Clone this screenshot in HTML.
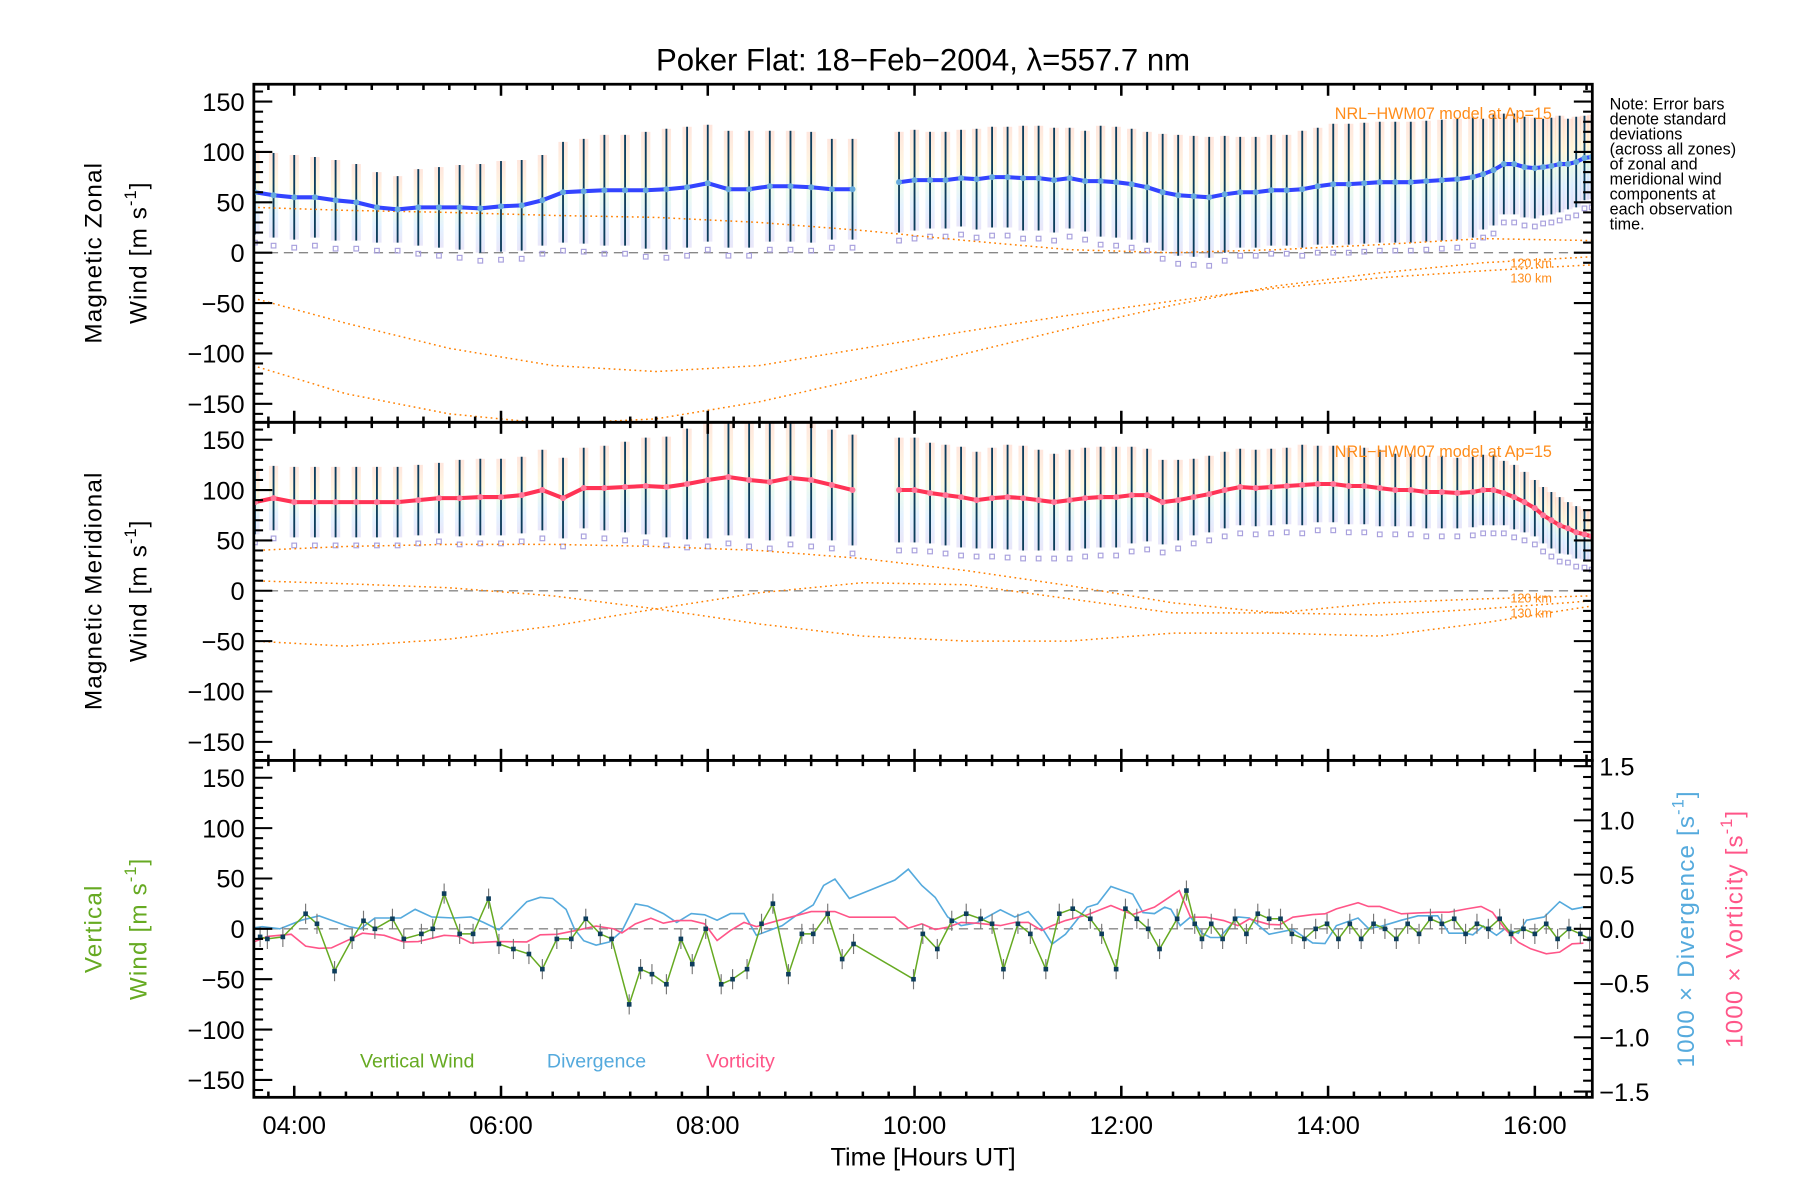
<!DOCTYPE html>
<html><head><meta charset="utf-8"><style>
html,body{margin:0;padding:0;background:#fff;}
svg{display:block;font-family:"Liberation Sans",sans-serif;}
</style></head><body>
<svg id="fig" width="1800" height="1200" viewBox="0 0 1560 1040" preserveAspectRatio="none" xmlns="http://www.w3.org/2000/svg">
<rect x="0" y="0" width="1560" height="1040" fill="#fff"/>
<text x="800" y="61" font-size="27" text-anchor="middle">Poker Flat: 18−Feb−2004, λ=557.7 nm</text>
<g id="layer"></g>
<g font-size="21" letter-spacing="1">
<text transform="translate(88,219) rotate(-90)" text-anchor="middle">Magnetic  Zonal</text>
<text transform="translate(127,219) rotate(-90)" text-anchor="middle">Wind  [m  s<tspan font-size="14" dy="-9">-1</tspan><tspan dy="9">]</tspan></text>
</g>
<g font-size="21" letter-spacing="1">
<text transform="translate(88,512) rotate(-90)" text-anchor="middle">Magnetic  Meridional</text>
<text transform="translate(127,512) rotate(-90)" text-anchor="middle">Wind  [m  s<tspan font-size="14" dy="-9">-1</tspan><tspan dy="9">]</tspan></text>
</g>
<g font-size="21" fill="#66aa22" letter-spacing="1">
<text transform="translate(88,805) rotate(-90)" text-anchor="middle">Vertical</text>
<text transform="translate(127,805) rotate(-90)" text-anchor="middle">Wind  [m  s<tspan font-size="14" dy="-9">-1</tspan><tspan dy="9">]</tspan></text>
</g>
<text transform="translate(1468,805) rotate(-90)" text-anchor="middle" font-size="21" fill="#55aadd" letter-spacing="1">1000 × Divergence [s<tspan font-size="14" dy="-9">-1</tspan><tspan dy="9">]</tspan></text>
<text transform="translate(1510,805) rotate(-90)" text-anchor="middle" font-size="21" fill="#ff5588" letter-spacing="1">1000 × Vorticity [s<tspan font-size="14" dy="-9">-1</tspan><tspan dy="9">]</tspan></text>
<text x="800" y="1010" font-size="22" text-anchor="middle">Time [Hours UT]</text>
<g font-size="14">
<text x="1395" y="95">Note: Error bars</text>
<text x="1395" y="108">denote standard</text>
<text x="1395" y="121">deviations</text>
<text x="1395" y="134">(across all zones)</text>
<text x="1395" y="147">of zonal and</text>
<text x="1395" y="160">meridional wind</text>
<text x="1395" y="173">components at</text>
<text x="1395" y="186">each observation</text>
<text x="1395" y="199">time.</text>
</g>
<g font-size="14" fill="#ff8c1a" text-anchor="end">
<text x="1345" y="103">NRL−HWM07 model at Ap=15</text>
<text x="1345" y="396">NRL−HWM07 model at Ap=15</text>
</g>
<g font-size="11" fill="#ff8c1a" text-anchor="end">
<text x="1345" y="232">120 km</text>
<text x="1345" y="245">130 km</text>
<text x="1345" y="522">120 km</text>
<text x="1345" y="535">130 km</text>
</g>
<g font-size="17">
<text x="312" y="925" fill="#66aa22">Vertical Wind</text>
<text x="474" y="925" fill="#55aadd">Divergence</text>
<text x="612" y="925" fill="#ff5588">Vorticity</text>
</g>
</svg>
<script>
// ---- data ----
const times = [3.62,3.8,4.0,4.2,4.4,4.6,4.8,5.0,5.2,5.4,5.6,5.8,6.0,6.2,6.4,6.6,6.8,7.0,7.2,7.4,7.6,7.8,8.0,8.2,8.4,8.6,8.8,9.0,9.2,9.4,
 9.85,10.0,10.15,10.3,10.45,10.6,10.75,10.9,11.05,11.2,11.35,11.5,11.65,11.8,11.95,12.1,12.25,12.4,12.55,12.7,12.85,13.0,13.15,13.3,13.45,13.6,13.75,13.9,14.05,14.2,14.35,14.5,14.65,14.8,14.95,15.1,15.25,15.4,
 15.5,15.6,15.7,15.8,15.9,16.0,16.08,16.16,16.24,16.32,16.4,16.48,16.55];
const zonal = [60,57,55,55,52,50,45,43,45,45,45,44,46,47,52,60,61,62,62,62,63,65,69,63,63,66,66,65,63,63,
 70,72,72,72,74,73,75,75,74,74,72,74,71,71,70,68,65,60,57,56,55,58,60,60,62,62,63,66,68,68,69,70,70,70,71,72,73,75,
 78,82,88,88,85,84,85,86,88,88,90,94,95];
const zonalErr = [42,42,42,40,40,38,35,33,38,40,42,44,45,45,45,50,52,55,55,58,60,60,58,58,58,55,55,55,50,50,
 50,50,48,48,48,50,50,50,52,52,52,50,50,55,55,55,55,58,60,60,60,58,55,55,55,55,58,58,60,60,60,60,60,60,60,60,60,60,
 55,55,50,50,50,50,48,48,48,45,45,42,42];
const merid = [88,92,88,88,88,88,88,88,90,92,92,93,93,95,100,92,102,102,103,104,103,106,110,113,110,108,112,110,105,100,
 100,100,97,95,93,90,92,93,92,90,88,90,92,93,93,95,95,88,90,93,96,100,103,102,103,104,105,106,106,104,104,102,100,100,98,98,97,98,
 100,100,97,93,88,82,75,70,65,62,58,56,54];
const meridErr = [32,32,35,35,35,35,35,35,35,35,38,38,38,38,40,40,40,42,45,48,50,55,58,58,58,58,58,58,55,55,
 52,52,50,50,50,48,50,52,52,50,48,50,50,50,50,48,46,42,40,38,38,38,38,38,38,38,40,38,38,38,38,38,36,36,36,36,35,35,
 35,35,32,32,30,28,28,28,28,26,26,25,25];
// model curves (hours, m/s)
const modelT = [3.6,4.5,5.5,6.5,7.5,8.5,9.5,10.5,11.5,12.5,13.5,14.5,15.5,16.56];
const modelZ1 = [-45,-70,-95,-112,-118,-112,-95,-78,-62,-48,-35,-25,-18,-12];
const modelZ2 = [-112,-140,-160,-170,-165,-148,-125,-100,-75,-52,-33,-20,-10,-4];
const modelZ3 = [45,42,40,37,35,30,22,12,3,0,3,8,14,12];
const modelM1 = [40,44,46,46,44,40,32,20,5,-12,-22,-24,-18,-10];
const modelM2 = [10,7,3,-5,-18,-33,-45,-50,-50,-42,-42,-45,-32,-15];
const modelM3 = [-50,-55,-48,-35,-18,-2,8,6,-8,-22,-22,-12,-8,-5];
// vertical panel
const vwT = [3.67,3.74,3.89,4.11,4.22,4.39,4.56,4.67,4.78,4.95,5.06,5.23,5.34,5.45,5.60,5.73,5.88,5.98,6.12,6.27,6.40,6.54,6.68,6.82,6.96,7.07,7.24,7.35,7.46,7.60,7.74,7.85,7.98,8.13,8.24,8.38,8.52,8.63,8.78,8.91,9.02,9.16,9.30,9.41,
 9.99,10.08,10.22,10.36,10.50,10.64,10.75,10.86,11.00,11.12,11.27,11.40,11.53,11.70,11.81,11.95,12.04,12.15,12.26,12.37,12.54,12.63,12.71,12.78,12.87,12.98,13.10,13.21,13.32,13.43,13.54,13.65,13.77,13.88,13.99,14.10,14.21,14.32,14.44,14.55,14.66,14.77,14.88,14.99,15.10,15.22,15.33,15.44,15.55,15.66,15.77,15.89,16.00,16.11,16.22,16.33,16.44,16.53];
const vwV = [-8,-10,-8,15,5,-42,-10,8,0,10,-10,-5,0,35,-5,-5,30,-15,-20,-25,-40,-10,-10,10,-5,-10,-75,-40,-45,-55,-10,-35,0,-55,-50,-40,5,25,-45,-5,-5,15,-30,-15,
 -50,-5,-20,8,15,10,5,-40,5,-5,-40,15,20,10,-5,-40,20,10,0,-20,10,38,5,-10,5,-10,10,-5,15,10,10,-5,-10,0,5,-10,5,-10,5,0,-10,5,-5,10,5,10,-5,5,0,10,-5,0,-5,5,-10,0,-5,-10];
const divT = [3.61,3.69,3.86,4.07,4.24,4.53,4.64,4.78,5.03,5.17,5.33,5.54,5.71,5.83,5.98,6.25,6.38,6.50,6.63,6.71,6.80,6.92,7.05,7.17,7.30,7.42,7.57,7.70,7.84,7.97,8.09,8.22,8.35,8.47,8.72,8.85,9.02,9.12,9.23,9.37,9.81,9.94,10.07,
 10.20,10.32,10.45,10.60,10.83,10.97,11.10,11.23,11.33,11.46,11.67,11.77,11.90,12.11,12.21,12.32,12.42,12.48,12.57,12.67,12.78,12.86,12.95,13.13,13.24,13.43,13.66,13.85,13.97,14.08,14.29,14.39,14.50,14.71,14.87,15.06,15.17,15.33,15.40,15.50,15.63,15.71,15.84,15.92,16.09,16.24,16.36,16.47];
const divV = [0.01,0.02,0,0.08,0.12,0.02,0,0.10,0.10,0.18,0.11,0.10,0.11,0.06,-0.01,0.25,0.29,0.28,0.18,0,-0.11,-0.15,-0.12,-0.02,0.23,0.21,0.14,0.06,0.14,0.13,0.08,0.14,0.14,-0.06,0.03,0.12,0.22,0.40,0.46,0.28,0.45,0.55,0.40,
 0.29,0.11,0.03,0.055,0.175,0.11,0.16,0.015,-0.14,-0.05,0.20,0.23,0.39,0.32,0.15,0.14,0.20,0.18,0.03,0.11,-0.04,-0.08,-0.08,0.11,0.10,-0.05,-0.005,-0.13,-0.135,0.03,0.10,0.005,0.02,0.08,0.12,0.12,-0.04,-0.04,-0.055,0.025,-0.06,0,-0.04,0.08,0.11,0.25,0.18,0.20];
const vorT = [3.61,3.74,3.97,4.11,4.24,4.36,4.53,4.66,4.87,5.06,5.20,5.45,5.58,5.71,5.96,6.25,6.38,6.54,6.71,6.92,7.09,7.17,7.30,7.45,7.57,7.70,7.84,7.97,8.09,8.22,8.35,8.47,8.68,8.85,9.0,9.23,9.37,9.81,9.94,10.07,
 10.20,10.32,10.45,10.60,10.83,10.97,11.10,11.23,11.33,11.46,11.67,11.90,12.11,12.32,12.44,12.56,12.67,12.82,12.99,13.13,13.24,13.43,13.53,13.66,13.85,13.97,14.08,14.29,14.39,14.50,14.71,14.87,15.06,15.17,15.34,15.48,15.59,15.71,15.84,15.96,16.11,16.24,16.36,16.47];
const vorV = [-0.12,-0.07,-0.05,-0.16,-0.18,-0.175,-0.10,-0.04,-0.06,-0.12,-0.117,-0.06,-0.067,-0.13,-0.117,-0.12,-0.055,-0.05,-0.018,0.025,0,-0.037,0.046,0.098,0.052,0.077,0.077,0.046,-0.107,-0.015,0.06,0.02,0.077,0.12,0.16,0.16,0.107,0.107,0.006,0.046,
 -0.006,0.015,0.06,0.052,0.03,0.06,0.06,-0.015,0.03,0.077,0.129,0.215,0.132,0.20,0.276,0.353,0.107,0.107,0.077,0.03,0.092,0.04,0.037,0.107,0.132,0.138,0.184,0.24,0.206,0.206,0.138,0.147,0.153,0.153,0.184,0.206,0.153,0,-0.123,-0.184,-0.23,-0.215,-0.138,-0.132];
const xTickLabels = ["04:00","06:00","08:00","10:00","12:00","14:00","16:00"];
const yTickLabels = ["−150","−100","−50","0","50","100","150"];
const rTickLabels = ["−1.5","−1.0","−0.5","0.0","0.5","1.0","1.5"];

// ---- axes ----
const NS="http://www.w3.org/2000/svg";
const L=220, R=1380;
const panels=[{top:73,bot:366,zero:219},{top:366,bot:659,zero:512},{top:659,bot:951,zero:805}];
const PXU=0.873, RPX=94;
function xS(h){return 255+(h-4)*89.6;}
function yS(p,v){return panels[p].zero - v*PXU;}
function rS(v){return panels[2].zero - v*RPX;}
const layer=document.getElementById('layer');
function mk(tag,attrs,parent){const e=document.createElementNS(NS,tag);for(const k in attrs)e.setAttribute(k,attrs[k]);(parent||layer).appendChild(e);return e;}
function poly(xs,ys,p){return xs.map((t,i)=>xS(t).toFixed(1)+','+yS(p,ys[i]).toFixed(1)).join(' ');}

const defs=mk('defs',{});
const gr=mk('linearGradient',{id:'clutter',x1:0,y1:0,x2:0,y2:1},defs);
[['0','#ffb8a0'],['0.35','#ffe8a8'],['0.55','#c8f0d0'],['0.75','#b0d8ff'],['1','#c0b8ee']].forEach(s=>mk('stop',{offset:s[0],'stop-color':s[1]},gr));
for(let p=0;p<3;p++){const c=mk('clipPath',{id:'clip'+p},defs);mk('rect',{x:L,y:panels[p].top,width:R-L,height:panels[p].bot-panels[p].top},c);}

function windPanel(p,vals,errs,name){
  const g=mk('g',{'clip-path':'url(#clip'+p+')'});
  
  
  mk('line',{x1:L,x2:R,y1:yS(p,0),y2:yS(p,0),stroke:'#888','stroke-dasharray':'8,5','stroke-width':1.2},g);
  times.forEach((t,i)=>{
    const c=mk('rect',{x:xS(t)-4,y:yS(p,vals[i]+errs[i]),width:8,height:2*errs[i]*PXU,fill:'url(#clutter)',opacity:0.35},g);
    
    
    const sq=mk('rect',{x:xS(t)-2,y:yS(p,vals[i]-errs[i]-8)-2,width:4,height:4,fill:'none',stroke:'#a8a0dd','stroke-width':1},g);
    
    
  });
  times.forEach((t,i)=>{
    const b=mk('line',{x1:xS(t),x2:xS(t),y1:yS(p,vals[i]+errs[i]),y2:yS(p,vals[i]-errs[i]),stroke:'#0d3d5c','stroke-width':1.6},g);
    
    
  });
  return g;
}
const g1=windPanel(0,zonal,zonalErr,'zonal');
const g2=windPanel(1,merid,meridErr,'meridional');
function model(p,ys,g){const m=mk('polyline',{points:poly(modelT,ys,p),fill:'none',stroke:'#ff8000','stroke-width':1.3,'stroke-dasharray':'1.5,3'},g);}
model(0,modelZ1,g1);model(0,modelZ2,g1);model(0,modelZ3,g1);
model(1,modelM1,g2);model(1,modelM2,g2);model(1,modelM3,g2);
function mean(p,vals,col,dot,g,name){
  const seg=[[],[]];
  times.forEach((t,i)=>{seg[t<9.6?0:1].push(i);});
  seg.forEach(s=>{const ln=mk('polyline',{points:s.map(i=>xS(times[i]).toFixed(1)+','+yS(p,vals[i]).toFixed(1)).join(' '),fill:'none',stroke:col,'stroke-width':3.5},g);
    
    });
  times.forEach((t,i)=>{const d=mk('circle',{cx:xS(t),cy:yS(p,vals[i]),r:2.6,fill:dot},g);
    
    });
}
mean(0,zonal,'#3344ff','#66aadd',g1,'zonal-wind-line');
mean(1,merid,'#ff3355','#ff7799',g2,'meridional-wind-line');

// panel 3
const g3=mk('g',{'clip-path':'url(#clip2)'});


mk('line',{x1:L,x2:R,y1:805,y2:805,stroke:'#888','stroke-dasharray':'8,5','stroke-width':1.2},g3);
const dl=mk('polyline',{points:divT.map((t,i)=>xS(t).toFixed(1)+','+rS(divV[i]).toFixed(1)).join(' '),fill:'none',stroke:'#55aadd','stroke-width':1.4},g3);


const vl=mk('polyline',{points:vorT.map((t,i)=>xS(t).toFixed(1)+','+rS(vorV[i]).toFixed(1)).join(' '),fill:'none',stroke:'#ff5588','stroke-width':1.4},g3);


vwT.forEach((t,i)=>{const e=mk('line',{x1:xS(t),x2:xS(t),y1:yS(2,vwV[i]+10),y2:yS(2,vwV[i]-10),stroke:'#777','stroke-width':1},g3);
  
  });
const wl=mk('polyline',{points:poly(vwT,vwV,2),fill:'none',stroke:'#66aa22','stroke-width':1.3},g3);


vwT.forEach((t,i)=>{const d=mk('rect',{x:xS(t)-2,y:yS(2,vwV[i])-2,width:4,height:4,fill:'#0d3d5c'},g3);
  
  });

// frames & ticks
const ax=mk('g',{stroke:'#000'});


for(let p=0;p<3;p++){
  const P=panels[p];
  mk('rect',{x:L,y:P.top,width:R-L,height:P.bot-P.top,fill:'none','stroke-width':2.4},ax);
  for(let v=-160;v<=160;v+=10){const y=yS(p,v);if(y<P.top+1||y>P.bot-1)continue;const len=(v%50===0)?16:8;
    mk('line',{x1:L,x2:L+len,y1:y,y2:y,'stroke-width':1.8},ax);
    if(p<2) mk('line',{x1:R,x2:R-len,y1:y,y2:y,'stroke-width':1.8},ax);}
  for(let m=3*60+45;m<=16*60+30;m+=15){const x=xS(m/60);const len=(m%120===0)?10:5;
    mk('line',{x1:x,x2:x,y1:P.top,y2:P.top+len,'stroke-width':2.2},ax);
    mk('line',{x1:x,x2:x,y1:P.bot,y2:P.bot-len,'stroke-width':2.2},ax);}
  yTickLabels.forEach((s,i)=>{const v=-150+50*i;const t=mk('text',{x:212,y:yS(p,v)+8,'font-size':22,'text-anchor':'end',stroke:'none'},ax);t.textContent=s;
    
    });
}
for(let k=-15;k<=15;k++){const y=rS(k/10);if(y<660||y>950)continue;const len=(k%5===0)?16:8;mk('line',{x1:R,x2:R-len,y1:y,y2:y,'stroke-width':1.8},ax);}
rTickLabels.forEach((s,i)=>{const t=mk('text',{x:1386,y:rS(-1.5+0.5*i)+8,'font-size':22,stroke:'none'},ax);t.textContent=s;
  
  });
xTickLabels.forEach((s,i)=>{const t=mk('text',{x:xS(4+2*i),y:983,'font-size':22,'text-anchor':'middle',stroke:'none'},ax);t.textContent=s;
  
  });
</script>
</body></html>
